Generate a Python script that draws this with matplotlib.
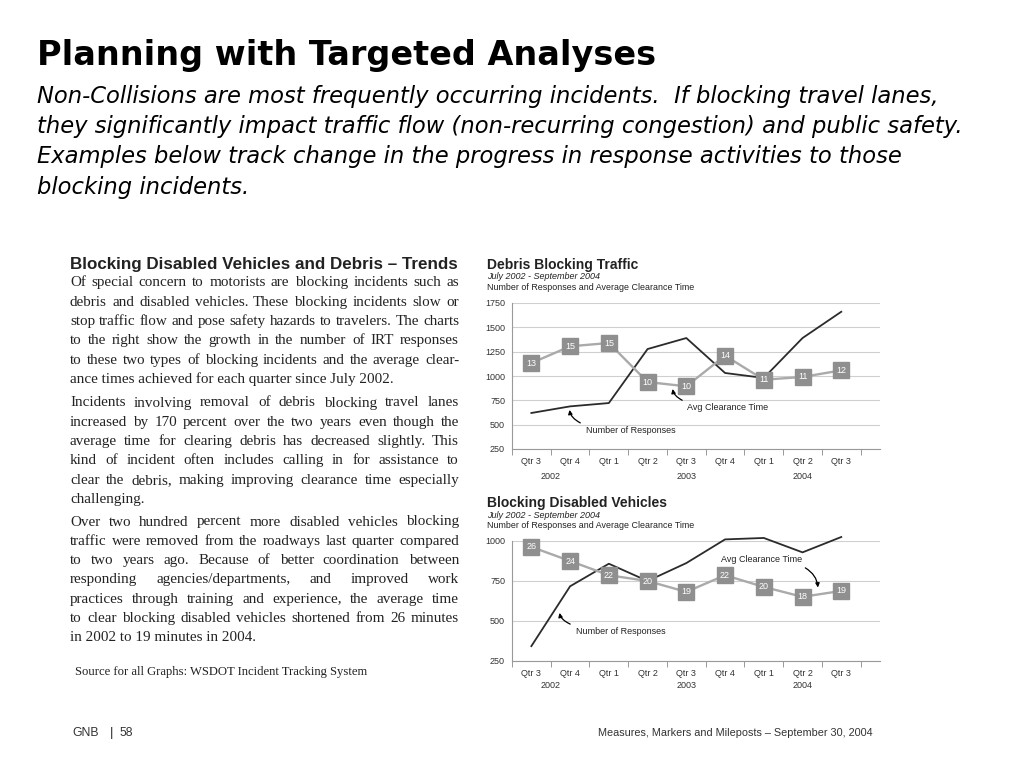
import matplotlib
matplotlib.use("Agg")
import matplotlib.pyplot as plt

# quarters July 2002 - September 2004
quarters = ["Qtr 3", "Qtr 4", "Qtr 1", "Qtr 2", "Qtr 3", "Qtr 4", "Qtr 1", "Qtr 2", "Qtr 3"]
years = ["2002", "2003", "2004"]
year_pos = [0.5, 4, 7]

# Debris Blocking Traffic
debris_responses = [620, 688, 722, 1277, 1390, 1031, 980, 1390, 1660]
debris_clear_min = [13, 15, 15, 10, 10, 14, 11, 11, 12]
debris_clear_pos = [1133, 1305, 1339, 938, 894, 1209, 962, 990, 1058]

# Blocking Disabled Vehicles
disabled_responses = [343, 717, 858, 750, 862, 1010, 1019, 929, 1025]
disabled_clear_min = [26, 24, 22, 20, 19, 22, 20, 18, 19]
disabled_clear_pos = [963, 875, 786, 750, 682, 786, 713, 651, 688]

title = "Planning with Targeted Analyses"
intro_lines = [
    "Non-Collisions are most frequently occurring incidents.  If blocking travel lanes,",
    "they significantly impact traffic flow (non-recurring congestion) and public safety.",
    "Examples below track change in the progress in response activities to those",
    "blocking incidents.",
]
side_heading = "Blocking Disabled Vehicles and Debris \u2013 Trends"
paragraphs = [
    ["Of special concern to motorists are blocking incidents such as",
     "debris and disabled vehicles. These blocking incidents slow or",
     "stop traffic flow and pose safety hazards to travelers. The charts",
     "to the right show the growth in the number of IRT responses",
     "to these two types of blocking incidents and the average clear-",
     "ance times achieved for each quarter since July 2002."],
    ["Incidents involving removal of debris blocking travel lanes",
     "increased by 170 percent over the two years even though the",
     "average time for clearing debris has decreased slightly.  This",
     "kind of incident often includes calling in for assistance to",
     "clear the debris, making improving clearance time especially",
     "challenging."],
    ["Over two hundred percent more disabled vehicles blocking",
     "traffic were removed from the roadways last quarter compared",
     "to two years ago. Because of better coordination between",
     "responding agencies/departments, and improved work",
     "practices through training and experience, the average time",
     "to clear blocking disabled vehicles shortened from 26 minutes",
     "in 2002 to 19 minutes in 2004."],
]
para_tops = [283, 403, 522]

W, H = 1024, 768
fig = plt.figure(figsize=(10.24, 7.68), dpi=100)
fig.patch.set_facecolor("white")
renderer = fig.canvas.get_renderer()
sans = "Liberation Sans"
serif = "Liberation Serif"
head_font = "DejaVu Sans"


def fy(py):
    return 1 - py / H


def fit_size(text, target, base=10, **kw):
    t = fig.text(0, 0, text, fontsize=base, **kw)
    w = t.get_window_extent(renderer).width
    t.remove()
    return base * target / w


# header text
ts = fit_size(title, 618, family=head_font, fontweight="bold")
fig.text(37 / W, fy(56), title, fontsize=ts, fontweight="bold", family=head_font,
         va="center", ha="left")
isz = (fit_size(intro_lines[0], 918, family=head_font, style="italic")
       + fit_size(intro_lines[1], 903, family=head_font, style="italic")) / 2
for i, line in enumerate(intro_lines):
    fig.text(37 / W, fy(96 + i * 30.5), line, fontsize=isz, style="italic",
             family=head_font, va="center", ha="left")

# left column text
hs = fit_size(side_heading, 387, family=sans, fontweight="bold")
fig.text(70 / W, fy(265), side_heading, fontsize=hs, fontweight="bold",
         family=sans, va="center", ha="left", color="#222222")


def justified(line, px0, px1, py, **kw):
    words = line.split()
    texts = [fig.text(0, fy(py), w, va="center", ha="left", **kw) for w in words]
    widths = [t.get_window_extent(renderer).width for t in texts]
    gap = (px1 - px0 - sum(widths)) / max(len(words) - 1, 1)
    x = px0
    for t, w in zip(texts, widths):
        t.set_x(x / W)
        x += w + gap


body_size = min(fit_size(l, 386, family=serif) for p in paragraphs for l in p[:-1])
for top, para in zip(para_tops, paragraphs):
    for j, line in enumerate(para):
        py = top + j * 19.3
        if j == len(para) - 1:
            fig.text(70 / W, fy(py), line, va="center", ha="left",
                     fontsize=body_size, family=serif, color="#222222")
        else:
            justified(line, 70, 459, py, fontsize=body_size, family=serif,
                      color="#222222")

src = "Source for all Graphs: WSDOT Incident Tracking System"
fig.text(75 / W, fy(672), src, fontsize=fit_size(src, 293, family=serif),
         family=serif, va="center", ha="left", color="#222222")

# footer
fig.text(72 / W, fy(733), "GNB", fontsize=8.8, family=sans, va="center",
         ha="left", color="#333333")
fig.text(112 / W, fy(733), "|", fontsize=9.5, family=sans, va="center",
         ha="center", color="#333333")
fig.text(119 / W, fy(733), "58", fontsize=8.8, family=sans, va="center",
         ha="left", color="#333333")
foot = "Measures, Markers and Mileposts \u2013 September 30, 2004"
fig.text(873 / W, fy(733), foot, fontsize=fit_size(foot, 275, family=sans),
         family=sans, va="center", ha="right", color="#333333")


def draw_chart(ax, resp, clear_pos, clear_min, ylim, yticks, year_off, notes):
    x = list(range(len(quarters)))
    ax.set_xlim(-0.5, 9.0)
    ax.set_ylim(*ylim)
    ax.set_yticks(yticks)
    ax.grid(axis="y", color="#cfcfcf", lw=0.8)
    ax.set_axisbelow(True)
    for s in ["top", "right"]:
        ax.spines[s].set_visible(False)
    for s in ["left", "bottom"]:
        ax.spines[s].set_color("#999999")
        ax.spines[s].set_linewidth(0.8)
    ax.plot(x, resp, color="#2b2b2b", lw=1.3, zorder=3, clip_on=False)
    ax.plot(x, clear_pos, color="#aaaaaa", lw=1.7, zorder=4, clip_on=False)
    ax.plot(x, clear_pos, "s", ms=11.5, color="#8f8f8f", zorder=5, clip_on=False)
    for xi, yi, m in zip(x, clear_pos, clear_min):
        ax.text(xi, yi, str(m), color="white", fontsize=6.5, family=sans,
                ha="center", va="center", zorder=6)
    ax.set_xticks(x)
    ax.set_xticklabels(quarters, fontsize=6.5, family=sans, color="#333333")
    ax.set_xticks([i - 0.5 for i in range(10)], minor=True)
    ax.tick_params(axis="x", which="major", length=0, pad=6)
    ax.tick_params(axis="x", which="minor", length=4, color="#999999", width=0.7)
    ax.tick_params(axis="y", length=0, pad=5, labelsize=6.5, labelcolor="#333333")
    for lab in ax.get_yticklabels():
        lab.set_family(sans)
    for yr, xp in zip(years, year_pos):
        ax.annotate(yr, xy=(xp, 0), xycoords=ax.get_xaxis_transform(),
                    xytext=(0, year_off), textcoords="offset points",
                    ha="center", va="center", fontsize=6.5, family=sans,
                    color="#333333")
    for label, head, txt, ha in notes:
        ax.annotate(label, xy=head, xytext=txt, ha=ha, va="center",
                    fontsize=6.5, family=sans, color="#222222", zorder=7,
                    arrowprops=dict(arrowstyle="-|>", color="black", lw=0.9,
                                    mutation_scale=6,
                                    connectionstyle="angle3,angleA=0,angleB=90"))


def chart_titles(py, name):
    fig.text(487 / W, fy(py), name, fontsize=10, fontweight="bold", family=sans,
             va="center", ha="left", color="#222222")
    fig.text(487 / W, fy(py + 12), "July 2002 - September 2004", fontsize=6.5,
             style="italic", family=sans, va="center", ha="left", color="#222222")
    fig.text(487 / W, fy(py + 22), "Number of Responses and Average Clearance Time",
             fontsize=6.4, family=sans, va="center", ha="left", color="#222222")


# chart 1
chart_titles(265, "Debris Blocking Traffic")
ax1 = fig.add_axes([512 / W, 1 - 449 / H, 368 / W, 146 / H])
draw_chart(ax1, debris_responses, debris_clear_pos, debris_clear_min,
           (250, 1750), [250, 500, 750, 1000, 1250, 1500, 1750], -20,
           [("Number of Responses", (0.98, 680), (1.4, 438), "left"),
            ("Avg Clearance Time", (3.64, 895), (4.03, 678), "left")])

# chart 2
chart_titles(503, "Blocking Disabled Vehicles")
ax2 = fig.add_axes([512 / W, 1 - 661 / H, 368 / W, 120 / H])
draw_chart(ax2, disabled_responses, disabled_clear_pos, disabled_clear_min,
           (250, 1000), [250, 500, 750, 1000], -18,
           [("Number of Responses", (0.72, 568), (1.14, 437), "left"),
            ("Avg Clearance Time", (7.4, 692), (6.98, 886), "right")])

fig.savefig("out.png", dpi=100, facecolor="white")
